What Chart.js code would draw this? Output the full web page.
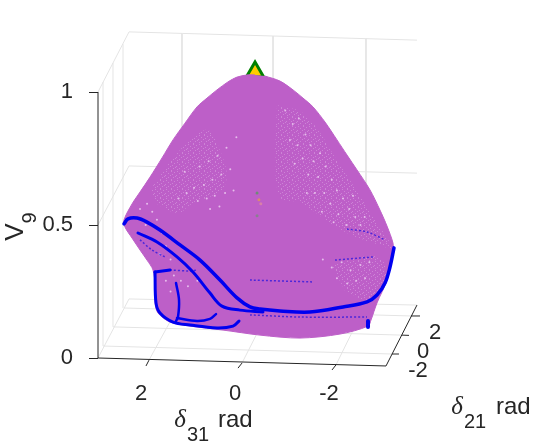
<!DOCTYPE html>
<html>
<head>
<meta charset="utf-8">
<style>
  html, body { margin: 0; padding: 0; background: #fff; }
  canvas { display: block; }
</style>
<script src="https://cdn.jsdelivr.net/npm/chart.js@4/dist/chart.umd.min.js"></script>
</head>
<body>
<canvas id="chart3d" width="540" height="442"></canvas>
<script>
// --- 1. DATA (projected onto the delta31 / V9 plane of the view) ---

const ticksDelta31 = [2, 0, -2];
const ticksV9 = [0, 0.5, 1];
const ticksDelta21 = ['2', '0', '-2'];

const surfaceX = [-0.277, -0.106, 0.106, 0.298, 0.532, 0.745, 0.957, 1.213, 1.468, 1.702, 1.957, 2.170, 2.340, 2.511, 2.489, 2.340, 2.170, 2.021, 1.894, 1.851, 1.851, 1.787, 1.532, 1.106, 0.404, -0.383, -1.234, -2.085, -2.681, -2.745, -2.872, -3.085, -3.213, -3.213, -3.085, -2.936, -2.723, -2.447, -2.234, -2.021, -1.766, -1.511, -1.298, -1.085, -0.809, -0.489];
const surfaceY = [1.064, 1.064, 1.056, 1.038, 1.008, 0.977, 0.944, 0.883, 0.820, 0.752, 0.680, 0.624, 0.579, 0.519, 0.492, 0.451, 0.406, 0.368, 0.331, 0.274, 0.207, 0.169, 0.135, 0.120, 0.105, 0.086, 0.075, 0.090, 0.120, 0.143, 0.207, 0.293, 0.406, 0.432, 0.496, 0.556, 0.632, 0.707, 0.763, 0.820, 0.887, 0.944, 0.977, 1.008, 1.041, 1.060];

const mainX = [2.511, 2.426, 2.234, 2.021, 1.745, 1.319, 0.894, 0.468, 0.106, -0.170, -0.383, -0.809, -1.447, -2.149, -2.660, -2.872, -3.043, -3.149, -3.234];
const mainY = [0.504, 0.523, 0.526, 0.511, 0.481, 0.425, 0.368, 0.293, 0.226, 0.192, 0.184, 0.177, 0.173, 0.192, 0.211, 0.237, 0.282, 0.342, 0.414];
const innerX = [2.213, 1.809, 1.383, 1.043, 0.681, 0.426, 0.043, -0.447];
const innerY = [0.470, 0.436, 0.380, 0.323, 0.244, 0.195, 0.180, 0.173];
const lobeX = [1.851, 1.830, 1.745, 1.468, 1.106, 0.532, 0.191, 0.064];
const lobeY = [0.323, 0.207, 0.169, 0.135, 0.124, 0.113, 0.120, 0.139];
const lobeTopX = [1.851, 1.532];
const lobeTopY = [0.323, 0.331];
const stemX = [1.404, 1.340, 1.362, 1.404];
const stemY = [0.282, 0.218, 0.154, 0.139];
const hookX = [1.383, 0.957, 0.681, 0.553];
const hookY = [0.150, 0.139, 0.147, 0.165];
const tailX = [-2.681, -2.681];
const tailY = [0.139, 0.117];

const faintCurves = [
  [[2.170, 0.444], [1.915, 0.406], [1.638, 0.380]],
  [[1.532, 0.331], [1.106, 0.327], [0.957, 0.331]],
  [[-2.234, 0.485], [-2.660, 0.474], [-3.043, 0.444]],
  [[-1.979, 0.368], [-2.787, 0.380]],
  [[-0.170, 0.293], [-1.511, 0.286]],
  [[-0.170, 0.162], [-1.234, 0.154], [-2.660, 0.154]]
];

const peakPoint = [[-0.277, 1.075]];
const centerSpecks = [[-0.32, 0.62], [-0.36, 0.595], [-0.40, 0.58], [-0.32, 0.535]];

// zonas donde la malla deja ver huecos claros
const palePatches = [
  [[1.957, 0.632], [1.319, 0.782], [0.787, 0.857], [0.553, 0.820], [0.362, 0.650], [1.106, 0.575], [1.362, 0.545], [1.787, 0.575]],
  [[-0.745, 0.951], [-1.340, 0.914], [-2.085, 0.726], [-2.830, 0.519], [-3.191, 0.414], [-2.936, 0.425], [-2.191, 0.474], [-1.234, 0.583], [-0.809, 0.605], [-0.702, 0.782]],
  [[-1.900, 0.350], [-2.900, 0.380], [-3.050, 0.290], [-2.700, 0.220], [-2.200, 0.250]]
];

const paleDots = [
  [0.12, 0.83], [0.33, 0.79], [0.52, 0.76], [0.71, 0.74], [0.90, 0.72], [0.25, 0.71], [0.44, 0.69], [0.63, 0.67], [0.81, 0.65], [1.02, 0.64],
  [0.18, 0.63], [0.36, 0.62], [0.58, 0.61], [0.75, 0.60], [0.94, 0.59], [1.18, 0.62], [1.35, 0.60], [1.22, 0.70], [0.48, 0.57], [0.68, 0.56],
  [-0.92, 0.93], [-1.08, 0.88], [-1.21, 0.90], [-1.02, 0.82], [-1.18, 0.80], [-1.35, 0.84], [-1.46, 0.80], [-1.29, 0.75], [-1.52, 0.74], [-1.66, 0.77],
  [-1.12, 0.73], [-1.41, 0.69], [-1.62, 0.68], [-1.78, 0.72], [-1.91, 0.67], [-1.55, 0.62], [-1.75, 0.62], [-2.02, 0.63], [-2.15, 0.60], [-1.88, 0.58],
  [-2.28, 0.56], [-2.05, 0.54], [-2.41, 0.53], [-2.22, 0.50], [-2.52, 0.50], [-1.70, 0.55], [-1.95, 0.51], [-2.61, 0.53], [-2.36, 0.61], [-1.38, 0.62],
  [-1.72, 0.37], [-1.91, 0.34], [-2.12, 0.36], [-2.31, 0.33], [-2.52, 0.35], [-2.71, 0.36], [-2.02, 0.30], [-2.24, 0.28], [-2.43, 0.29], [-2.62, 0.30],
  [2.17, 0.56], [2.02, 0.58], [1.91, 0.55], [1.81, 0.52], [2.05, 0.50], [1.70, 0.47], [1.85, 0.44], [1.62, 0.42], [1.75, 0.39], [1.52, 0.37],
  [1.45, 0.31], [1.30, 0.29], [1.62, 0.29], [1.15, 0.27], [0.95, 0.29], [1.52, 0.25]
];

// [x1, y1, x2, y2] en unidades de los ejes
const gridSegments = [
  [3.064, 1, 2.404, 1.226], [2.404, 1.226, -3.723, 1.195],
  [3.064, 0, 2.404, 0.222], [2.404, 0.222, -3.723, 0.199],
  [3.064, 0.5, 2.404, 0.722], [2.404, 0.722, -3.723, 0.695],
  [1.277, 1.220, 1.277, 0.218], [-0.660, 1.211, -0.660, 0.211], [-2.638, 1.201, -2.638, 0.203],
  [1.979, -0.008, 1.277, 0.218], [0, -0.019, -0.660, 0.211], [-2, -0.026, -2.638, 0.203],
  [2.511, 0.188, -3.596, 0.158], [2.745, 0.117, -3.404, 0.086], [2.957, 0.045, -3.191, 0.015],
  [2.957, 0.045, 2.957, 1.038], [2.745, 0.117, 2.745, 1.109], [2.532, 0.188, 2.532, 1.180]
];

const axisSegments = [
  [3.064, 0, 3.064, 1], [3.064, 0, -3.064, -0.030], [-3.064, -0.030, -3.723, 0.199],
  [1.979, -0.008, 2.043, -0.030], [0, -0.019, 0.085, -0.038], [-2, -0.026, -1.915, -0.045],
  [-3.596, 0.158, -3.787, 0.158], [-3.404, 0.086, -3.553, 0.085], [-3.191, 0.015, -3.340, 0.015]
];

const colores = {
  superficie: '#bd5fc8',
  azul: '#0000f0',
  grid: '#e4e4e4',
  eje: '#262626',
  pico: '#ffcc00',
  verde: '#008000'
};

// --- 2. DATASET HELPERS ---

function zipXY(xs, ys) {
  return xs.map((x, i) => ({ x, y: ys[i] }));
}

function pairs(lista) {
  return lista.map(p => ({ x: p[0], y: p[1] }));
}

function segmentoDataset(seg, color, width) {
  return {
    data: [{ x: seg[0], y: seg[1] }, { x: seg[2], y: seg[3] }],
    showLine: true, borderColor: color, borderWidth: width, pointRadius: 0, clip: false
  };
}

function curvaDataset(xs, ys, width) {
  return {
    data: zipXY(xs, ys),
    showLine: true, borderColor: colores.azul, borderWidth: width,
    pointRadius: 0, tension: 0.35, clip: false, borderCapStyle: 'round'
  };
}

// textura de malla: una baldosa pequeña con pixeles claros
function crearTrama() {
  const tile = document.createElement('canvas');
  tile.width = 11;
  tile.height = 9;
  const c = tile.getContext('2d');
  c.fillStyle = 'rgba(232, 190, 236, 0.38)';
  [[1, 0], [6, 0], [9, 1], [3, 2], [7, 3], [0, 4], [5, 4], [10, 5], [3, 6], [8, 6], [1, 7], [6, 8]].forEach(p => c.fillRect(p[0], p[1], 1, 1));
  return c.createPattern(tile, 'repeat');
}

const trama = crearTrama();

const datasets = [
  ...gridSegments.map(s => segmentoDataset(s, colores.grid, 1)),
  ...axisSegments.map(s => segmentoDataset(s, colores.eje, 1)),
  {
    data: pairs(peakPoint), pointStyle: 'triangle', pointRadius: 10,
    backgroundColor: colores.pico, borderColor: colores.verde, borderWidth: 3, clip: false
  },
  {
    data: zipXY(surfaceX, surfaceY), showLine: true, fill: 'shape', tension: 0.3,
    backgroundColor: colores.superficie, borderColor: colores.superficie, borderWidth: 1, pointRadius: 0
  },
  ...palePatches.map(p => ({
    data: pairs(p), showLine: true, fill: 'shape', tension: 0.4,
    backgroundColor: trama, borderWidth: 0, pointRadius: 0
  })),
  {
    data: pairs(paleDots), pointRadius: 1, borderWidth: 0,
    backgroundColor: 'rgba(240, 212, 244, 0.8)'
  },
  {
    data: pairs(centerSpecks), pointRadius: 1.5, borderWidth: 0,
    backgroundColor: ['#6f8a78', '#d98a70', '#d87fa8', '#8a7f90']
  },
  ...faintCurves.map(c => ({
    data: pairs(c), showLine: true, borderColor: 'rgba(0, 0, 230, 0.6)', borderWidth: 1.5,
    borderDash: [2, 2], pointRadius: 0, tension: 0.3, clip: false
  })),
  curvaDataset(mainX, mainY, 3.5),
  curvaDataset(innerX, innerY, 3),
  curvaDataset(lobeX, lobeY, 3),
  curvaDataset(lobeTopX, lobeTopY, 3),
  curvaDataset(stemX, stemY, 2.5),
  curvaDataset(hookX, hookY, 2.5),
  curvaDataset(tailX, tailY, 4)
];
// el ultimo de la lista queda arriba
datasets.forEach((d, i) => { d.order = -i; });

// --- 3. TEXTS THE AXES CANNOT PLACE ---

const textosPlugin = {
  id: 'textos',
  afterDraw(chart) {
    const ctx = chart.ctx;
    const sans = 'Arial, "Liberation Sans", sans-serif';
    const serif = 'italic 25px "Liberation Serif", "Times New Roman", serif';
    const texto = (t, x, y, font, align) => {
      ctx.font = font;
      ctx.textAlign = align || 'center';
      ctx.textBaseline = 'middle';
      ctx.fillText(t, x, y);
    };
    ctx.save();
    ctx.fillStyle = colores.eje;

    // etiquetas del eje delta21
    texto(ticksDelta21[0], 435, 333, '22px ' + sans);
    texto(ticksDelta21[1], 423, 352, '22px ' + sans);
    texto(ticksDelta21[2], 418, 371, '22px ' + sans);

    // delta31 rad
    texto('δ', 180, 420, serif);
    texto('31', 187, 435, '20px ' + sans, 'left');
    texto('rad', 218, 420, '24px ' + sans, 'left');

    // delta21 rad
    texto('δ', 457, 407, serif);
    texto('21', 464, 422, '20px ' + sans, 'left');
    texto('rad', 496, 407, '24px ' + sans, 'left');

    // V9 vertical
    ctx.translate(16, 231);
    ctx.rotate(-Math.PI / 2);
    texto('V', -1, 0, '26px ' + sans);
    texto('9', 13, 14, '20px ' + sans);
    ctx.restore();
  }
};

// --- 4. CHART ---

new Chart(document.getElementById('chart3d').getContext('2d'), {
  type: 'scatter',
  data: { datasets },
  plugins: [textosPlugin],
  options: {
    responsive: false,
    animation: false,
    events: [],
    layout: { padding: { top: 30, right: 110, left: 0, bottom: 0 } },
    plugins: { legend: { display: false }, tooltip: { enabled: false } },
    scales: {
      x: {
        type: 'linear', reverse: true, min: -4, max: 3.064,
        afterFit: s => { s.height = 84; },
        afterBuildTicks: s => { s.ticks = ticksDelta31.map(value => ({ value })); },
        border: { display: false },
        grid: { display: false },
        ticks: {
          autoSkip: false, maxRotation: 0, padding: 15, labelOffset: -7,
          color: colores.eje, font: { family: 'Arial, "Liberation Sans", sans-serif', size: 22 }
        }
      },
      y: {
        type: 'linear', min: 0, max: 1.2331,
        afterFit: s => { s.width = 98; },
        afterBuildTicks: s => { s.ticks = ticksV9.map(value => ({ value })); },
        border: { display: false },
        grid: { drawOnChartArea: false, drawTicks: true, tickLength: 9, color: colores.eje },
        ticks: {
          autoSkip: false, padding: 16, color: colores.eje,
          font: { family: 'Arial, "Liberation Sans", sans-serif', size: 22 },
          callback: v => String(v)
        }
      }
    }
  }
});
</script>
</body>
</html>
